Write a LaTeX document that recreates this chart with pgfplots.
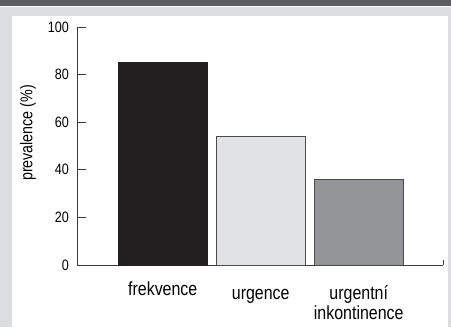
\documentclass[border=0pt]{standalone}
\usepackage{pgfplots}
\pgfplotsset{compat=1.18}
\usepackage{fontspec}
\setmainfont[FakeStretch=0.84]{Liberation Sans}
\definecolor{bggray}{HTML}{DCDDDF}
\definecolor{headgray}{HTML}{5D5D5F}
\definecolor{axisgray}{HTML}{3A3A3C}
\definecolor{barA}{HTML}{231F20}
\definecolor{barB}{HTML}{E1E2E4}
\definecolor{barC}{HTML}{939598}
\definecolor{edge}{HTML}{4A4A4C}
\begin{document}
\begin{tikzpicture}[x=1bp,y=1bp]
\useasboundingbox (0,0) rectangle (451,327);
\fill[bggray] (0,0) rectangle (451,327);
\fill[headgray] (0,321) rectangle (451,327);
\fill[white!90!bggray] (0,320) rectangle (451,321);
\fill[white] (12,0) rectangle (448,311);
\begin{axis}[
  at={(77bp,62bp)}, anchor=south west,
  scale only axis, width=366bp, height=238bp,
  xmin=-0.875, xmax=2.86, ymin=0, ymax=100,
  axis x line*=bottom, axis y line*=left,
  axis line style={draw=axisgray, line width=0.8bp, -},
  ytick={0,20,40,60,80,100},
  tick align=inside, major tick length=9bp,
  y tick style={draw=axisgray, line width=0.8bp},
  xtick={0,1,2},
  xticklabels={{frekvence},{\raisebox{-4bp}{urgence}},{\raisebox{-4bp}{\begin{tabular}[t]{@{}c@{}}urgentní\\inkontinence\end{tabular}}}},
  x tick style={draw=none},
  /pgf/number format/assume math mode=true,
  yticklabel style={font=\fontsize{15bp}{18bp}\selectfont, inner sep=0pt, xshift=-8bp},
  xticklabel style={font=\fontsize{19bp}{20bp}\selectfont, anchor=base, yshift=-21bp},
  ylabel={prevalence (\%)},
  ylabel style={font=\fontsize{17bp}{20bp}\selectfont, at={(axis description cs:-0.134,0.555)}, anchor=center},
  ybar, bar width=89bp,
  clip=false,
]
\addplot[bar shift=0pt, fill=barA, draw=barA, line width=0.8bp] coordinates {(0,85)};
\addplot[bar shift=0pt, fill=barB, draw=edge, line width=0.8bp] coordinates {(1,54)};
\addplot[bar shift=0pt, fill=barC, draw=edge, line width=0.8bp] coordinates {(2,36)};
\draw[axisgray, line width=0.8bp] (rel axis cs:1,0) -- (rel axis cs:1,0.022);
\end{axis}
\end{tikzpicture}
\end{document}
